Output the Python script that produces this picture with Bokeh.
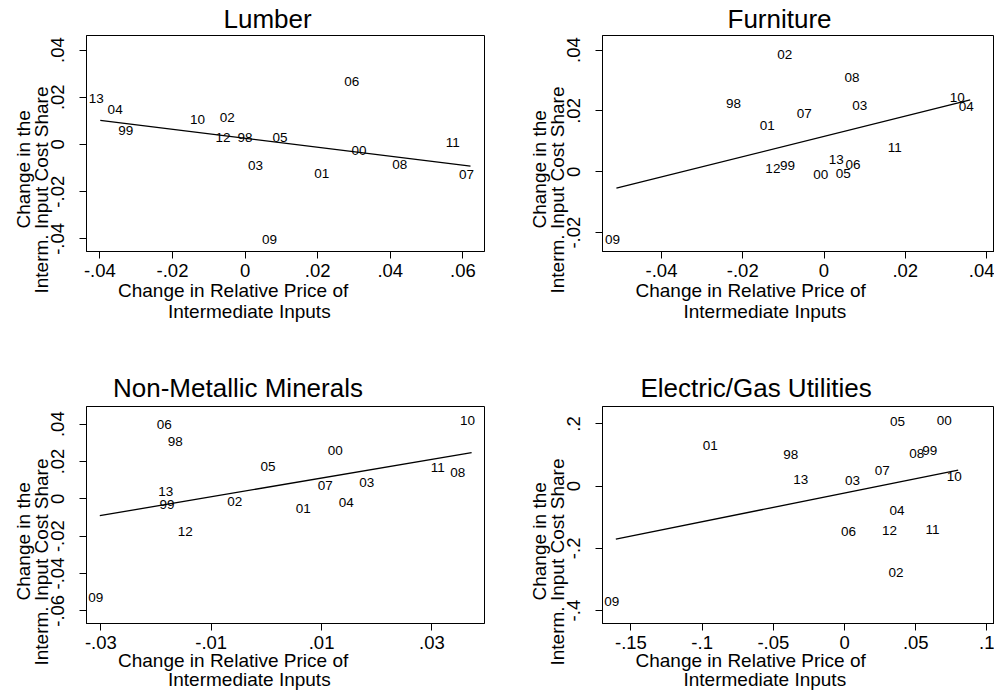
import numpy as np
from bokeh.plotting import figure
from bokeh.models import FixedTicker, Range1d, ColumnDataSource, Title
from bokeh.layouts import gridplot
from bokeh.embed import file_html
from bokeh.resources import INLINE
from bokeh.core.properties import value

FONT = "Liberation Sans"

# ---------------- data ----------------
lumber_years = ["13", "04", "99", "10", "02", "12", "98", "05", "03", "06", "00", "01", "08", "11", "07", "09"]
lumber_x = [-0.0399, -0.0347, -0.0318, -0.0120, -0.0038, -0.0050, 0.0011, 0.0107, 0.0040, 0.0305, 0.0325, 0.0222, 0.0437, 0.0583, 0.0621, 0.0078]
lumber_y = [0.0194, 0.0150, 0.0060, 0.0107, 0.0113, 0.0030, 0.0030, 0.0031, -0.0087, 0.0267, -0.0024, -0.0124, -0.0083, 0.0010, -0.0128, -0.0402]

furn_years = ["02", "08", "98", "03", "07", "01", "10", "04", "11", "13", "06", "12", "99", "00", "05", "09"]
furn_x = [-0.0087, 0.0079, -0.0213, 0.0098, -0.0039, -0.0130, 0.0338, 0.0360, 0.0184, 0.0040, 0.0081, -0.0116, -0.0080, 0.0002, 0.0057, -0.0511]
furn_y = [0.0385, 0.0311, 0.0224, 0.0217, 0.0191, 0.0151, 0.0245, 0.0216, 0.0080, 0.0040, 0.0023, 0.0011, 0.0022, -0.0009, -0.0005, -0.0221]

nonmet_years = ["10", "06", "98", "00", "05", "11", "08", "07", "03", "13", "99", "02", "01", "04", "12", "09"]
nonmet_x = [0.0372, -0.0178, -0.0158, 0.0132, 0.0010, 0.0318, 0.0354, 0.0114, 0.0189, -0.0175, -0.0173, -0.0050, 0.0074, 0.0152, -0.0140, -0.0302]
nonmet_y = [0.0420, 0.0398, 0.0307, 0.0261, 0.0171, 0.0168, 0.0143, 0.0073, 0.0088, 0.0039, -0.0029, -0.0014, -0.0052, -0.0020, -0.0175, -0.0530]

elec_years = ["05", "00", "01", "98", "08", "99", "07", "10", "13", "03", "04", "06", "12", "11", "02", "09"]
elec_x = [0.0400, 0.0728, -0.0915, -0.0349, 0.0536, 0.0627, 0.0293, 0.0798, -0.0279, 0.0084, 0.0396, 0.0056, 0.0344, 0.0646, 0.0389, -0.1606]
elec_y = [0.2089, 0.2111, 0.1307, 0.1018, 0.1039, 0.1146, 0.0514, 0.0321, 0.0225, 0.0182, -0.0771, -0.1457, -0.1425, -0.1393, -0.2764, -0.3718]

lumber_xticks = [-0.04, -0.02, 0.0, 0.02, 0.04, 0.06]
lumber_xlabels = ["-.04", "-.02", "0", ".02", ".04", ".06"]
lumber_yticks = [-0.04, -0.02, 0.0, 0.02, 0.04]
lumber_ylabels = ["-.04", "-.02", "0", ".02", ".04"]

furn_xticks = [-0.04, -0.02, 0.0, 0.02, 0.04]
furn_xlabels = ["-.04", "-.02", "0", ".02", ".04"]
furn_yticks = [-0.02, 0.0, 0.02, 0.04]
furn_ylabels = ["-.02", "0", ".02", ".04"]

nonmet_xticks = [-0.03, -0.01, 0.01, 0.03]
nonmet_xlabels = ["-.03", "-.01", ".01", ".03"]
nonmet_yticks = [-0.06, -0.04, -0.02, 0.0, 0.02, 0.04]
nonmet_ylabels = ["-.06", "-.04", "-.02", "0", ".02", ".04"]

elec_xticks = [-0.15, -0.1, -0.05, 0.0, 0.05, 0.1]
elec_xlabels = ["-.15", "-.1", "-.05", "0", ".05", ".1"]
elec_yticks = [-0.4, -0.2, 0.0, 0.2]
elec_ylabels = ["-.4", "-.2", "0", ".2"]

x_title = ["Change in Relative Price of", "Intermediate Inputs"]
y_title = ["Change in the", "Interm. Input Cost Share"]

W, H = 497, 349


def ttl(text, size, align, offset, standoff, valign):
    return Title(text=text, align=align, offset=offset, standoff=standoff,
                 vertical_align=valign, text_font=FONT,
                 text_font_size=f"{size}px", text_font_style="normal",
                 text_color="black")


def make_panel(name, yrs, xs, ys, sx, sy, xticks, xlabels, yticks, ylabels,
               left_col, top_row, title_off):
    # sx: (pixel of x=0 from the panel's left, px per unit)
    # sy: (pixel of y=0 from the panel's top, px per unit)
    x0, kx = sx
    y0, ky = sy
    if left_col:
        mbl, mbr = 86, 13
        xt_off = (31.5, 81.5)
    else:
        mbl, mbr = 105, 0
        xt_off = (33, 81)
    if top_row:
        mbt, mbb = 34, 98
        t_so, x_so = 3, (0, -3)
    else:
        mbt, mbb = 57, 75
        t_so, x_so = 7, (-4, -4)
    fl, fr, ft, fb = mbl, W - mbr, mbt, H - mbb
    p = figure(width=W, height=H,
               x_range=Range1d((fl - x0) / kx, (fr - x0) / kx),
               y_range=Range1d((y0 - fb) / ky, (y0 - ft) / ky),
               min_border_left=mbl, min_border_right=mbr,
               min_border_top=mbt, min_border_bottom=mbb,
               output_backend="svg", toolbar_location=None, tools="")
    p.outline_line_color = "black"
    p.outline_line_width = 1
    p.outline_line_alpha = 1
    p.background_fill_color = "white"
    p.border_fill_color = "white"
    p.xgrid.grid_line_color = None
    p.ygrid.grid_line_color = None

    xa = p.below[0]
    ya = p.left[0]
    for ax in (xa, ya):
        ax.major_tick_out = 7
        ax.major_tick_in = 0
        ax.minor_tick_line_color = None
        ax.axis_line_color = "black"
        ax.major_tick_line_color = "black"
        ax.major_label_text_font = FONT
        ax.major_label_text_font_size = "18.5px"
        ax.major_label_text_color = "black"
    xa.ticker = FixedTicker(ticks=xticks)
    xa.major_label_overrides = dict(zip(xticks, xlabels))
    xa.major_label_standoff = 5
    ya.ticker = FixedTicker(ticks=yticks)
    ya.major_label_overrides = dict(zip(yticks, ylabels))
    ya.major_label_orientation = "vertical"
    ya.major_label_standoff = 15

    # panel title
    p.title.text = name
    p.title.align = "left"
    p.title.offset = title_off
    p.title.standoff = t_so
    p.title.vertical_align = "bottom"
    p.title.text_font = FONT
    p.title.text_font_size = "26px"
    p.title.text_font_style = "normal"
    p.title.text_color = "black"

    # x axis title, two lines (stacked below the axis)
    p.add_layout(ttl(x_title[0], 19, "left", xt_off[0], x_so[0], "top"), "below")
    p.add_layout(ttl(x_title[1], 19, "left", xt_off[1], x_so[1], "top"), "below")
    # y axis title, two lines (second line nearest the axis)
    p.add_layout(ttl(y_title[1], 19, "left", -42, -7, "bottom"), "left")
    p.add_layout(ttl(y_title[0], 19, "left", 23, -2, "bottom"), "left")

    # fitted line (OLS on the plotted points)
    b, a = np.polyfit(np.array(xs), np.array(ys), 1)
    xx = np.array([min(xs), max(xs)])
    p.line(xx, a + b * xx, line_color="black", line_width=1.3)

    src = ColumnDataSource(dict(x=xs, y=ys, t=yrs))
    p.text(x="x", y="y", text="t", source=src, text_align="center",
           text_baseline="middle", text_font=value(FONT),
           text_font_size="13.5px", x_offset=-4, text_color="black")
    return p


p1 = make_panel("Lumber", lumber_years, lumber_x, lumber_y,
                (244.59, 3630.0), (143.47, 2371.7),
                lumber_xticks, lumber_xlabels, lumber_yticks, lumber_ylabels,
                True, True, 137)
p2 = make_panel("Furniture", furn_years, furn_x, furn_y,
                (326.5, 4062.5), (170.9, 3056.7),
                furn_xticks, furn_xlabels, furn_yticks, furn_ylabels,
                False, True, 125)
p3 = make_panel("Non-Metallic Minerals", nonmet_years, nonmet_x, nonmet_y,
                (265.9, 5516.7), (149.33, 1866.7),
                nonmet_xticks, nonmet_xlabels, nonmet_yticks, nonmet_ylabels,
                True, False, 26.5)
p4 = make_panel("Electric/Gas Utilities", elec_years, elec_x, elec_y,
                (347.04, 1424.0), (136.64, 311.1),
                elec_xticks, elec_xlabels, elec_yticks, elec_ylabels,
                False, False, 38)

grid = gridplot([[p1, p2], [p3, p4]], toolbar_location=None)
open("out.html", "w").write(file_html(grid, INLINE))
